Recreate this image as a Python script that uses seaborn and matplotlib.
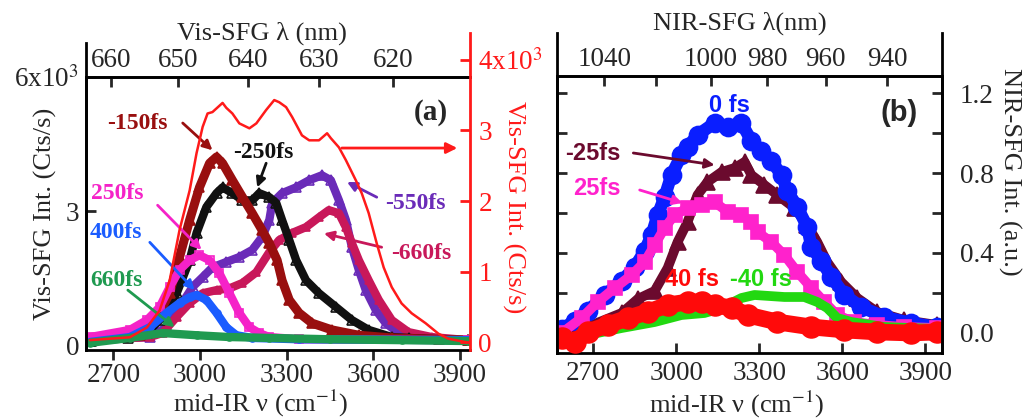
import numpy as np
import pandas as pd
import matplotlib
matplotlib.use('Agg')
import matplotlib.pyplot as plt
import seaborn as sns

# ---------------- panel (a): Vis-SFG, x = mid-IR wavenumber (cm-1), y = 10^3 Cts/s
nu_vis_total = [2619, 2757, 2816, 2860, 2895, 2929, 2964, 2988, 3009, 3026, 3043, 3078, 3091, 3112,
                3136, 3171, 3195, 3229, 3257, 3274, 3298, 3319, 3353, 3378, 3412, 3440, 3453, 3481,
                3505, 3540, 3560, 3584, 3612, 3636, 3664, 3698, 3733, 3781, 3826, 3860, 3922]
int_vis_total = [0.03, 0.07, 0.21, 0.45, 0.88, 1.59, 2.15, 2.68, 3.05, 3.24, 3.26, 3.39, 3.32, 3.24,
                 3.10, 3.03, 3.10, 3.29, 3.43, 3.40, 3.33, 3.19, 2.93, 2.86, 2.86, 2.96, 2.89, 2.76,
                 2.58, 2.29, 2.11, 1.83, 1.40, 1.06, 0.78, 0.55, 0.41, 0.27, 0.12, 0.05, 0.0]

nu_m550 = [2619, 2826, 2884, 2929, 2974, 3009, 3043, 3091, 3136, 3181, 3215, 3240, 3250, 3284, 3333,
           3378, 3422, 3453, 3481, 3505, 3526, 3550, 3574, 3609, 3643, 3688, 3746, 3826, 3929]
int_m550 = [0.11, 0.18, 0.40, 0.85, 1.30, 1.52, 1.74, 1.86, 1.97, 2.13, 2.42, 2.80, 3.18, 3.40, 3.53,
            3.69, 3.80, 3.69, 3.24, 2.80, 2.19, 1.68, 1.23, 0.78, 0.49, 0.27, 0.16, 0.13, 0.11]

nu_m660 = [2619, 2826, 2870, 2919, 2964, 3009, 3057, 3102, 3147, 3195, 3240, 3274, 3319, 3367, 3412,
           3446, 3481, 3505, 3526, 3550, 3584, 3619, 3664, 3722, 3802, 3929]
int_m660 = [0.11, 0.18, 0.27, 0.63, 0.94, 1.16, 1.23, 1.27, 1.39, 1.63, 2.08, 2.35, 2.51, 2.64, 2.86,
            3.02, 2.95, 2.64, 2.28, 1.90, 1.45, 1.01, 0.56, 0.29, 0.18, 0.11]

nu_m250 = [2620, 2750, 2816, 2860, 2919, 2964, 2988, 3022, 3057, 3078, 3112, 3147, 3181, 3205, 3240,
           3264, 3284, 3309, 3333, 3367, 3412, 3471, 3526, 3584, 3664, 3722, 3826, 3929]
int_m250 = [0.10, 0.15, 0.27, 0.56, 1.16, 1.90, 2.51, 3.09, 3.40, 3.53, 3.40, 3.24, 3.24, 3.40, 3.31,
            3.18, 2.80, 2.35, 1.90, 1.45, 1.16, 0.85, 0.56, 0.34, 0.18, 0.16, 0.13, 0.11]

nu_m150 = [2619, 2791, 2860, 2895, 2929, 2964, 2998, 3033, 3057, 3078, 3112, 3147, 3181, 3215, 3240,
           3267, 3284, 3309, 3343, 3388, 3457, 3550, 3664, 3826, 3929]
int_m150 = [0.11, 0.22, 0.72, 1.16, 1.97, 2.80, 3.53, 4.07, 4.21, 4.07, 3.69, 3.31, 2.95, 2.57, 2.28,
            1.90, 1.45, 1.01, 0.72, 0.49, 0.34, 0.22, 0.16, 0.13, 0.11]

nu_p250 = [2619, 2757, 2816, 2860, 2895, 2929, 2964, 2998, 3033, 3067, 3102, 3136, 3171, 3205, 3240, 3343, 3929]
int_p250 = [0.18, 0.34, 0.56, 0.85, 1.30, 1.68, 1.90, 2.01, 1.90, 1.61, 1.16, 0.72, 0.40, 0.27, 0.18, 0.13, 0.11]

nu_p400 = [2619, 2757, 2826, 2884, 2929, 2964, 2988, 3022, 3057, 3091, 3126, 3181, 3343, 3929]
int_p400 = [0.07, 0.18, 0.40, 0.72, 0.94, 1.07, 1.12, 1.01, 0.72, 0.40, 0.22, 0.16, 0.13, 0.11]

nu_p660 = [2619, 2757, 2870, 2988, 3102, 3240, 3450, 3700, 3929]
int_p660 = [0.05, 0.16, 0.27, 0.22, 0.18, 0.16, 0.13, 0.11, 0.09]

# ---------------- panel (b): NIR-SFG, y = a.u.
nu_0fs = [2586, 2633, 2680, 2742, 2803, 2850, 2886, 2911, 2933, 2958, 2983, 3019, 3041, 3077, 3139,
          3186, 3236, 3272, 3308, 3344, 3381, 3402, 3438, 3474, 3489, 3525, 3561, 3608, 3669, 3752, 3849, 3943]
int_0fs = [0.02, 0.06, 0.11, 0.19, 0.26, 0.33, 0.41, 0.49, 0.59, 0.68, 0.79, 0.89, 0.93, 0.99, 1.05,
           1.03, 1.05, 0.96, 0.91, 0.86, 0.79, 0.71, 0.63, 0.53, 0.43, 0.36, 0.28, 0.19, 0.13, 0.08, 0.05, 0.03]

nu_m25 = [2600, 2651, 2803, 2861, 2922, 2969, 3005, 3041, 3077, 3113, 3164, 3211, 3247, 3272, 3319,
          3366, 3428, 3474, 3510, 3546, 3597, 3655, 3727, 3824, 3943]
int_m25 = [0.01, 0.015, 0.10, 0.17, 0.21, 0.325, 0.455, 0.555, 0.69, 0.755, 0.805, 0.825, 0.855, 0.79, 0.74,
           0.69, 0.625, 0.54, 0.455, 0.355, 0.255, 0.175, 0.105, 0.065, 0.04]

nu_p25 = [2586, 2658, 2716, 2778, 2839, 2886, 2922, 2958, 2994, 3041, 3092, 3139, 3186, 3236, 3272,
          3294, 3344, 3391, 3438, 3489, 3536, 3582, 3643, 3727, 3824, 3943]
int_p25 = [0.0, 0.075, 0.155, 0.225, 0.29, 0.355, 0.44, 0.525, 0.59, 0.625, 0.64, 0.655, 0.605, 0.59, 0.555,
           0.505, 0.455, 0.39, 0.305, 0.225, 0.155, 0.09, 0.055, 0.04, 0.03, 0.025]

nu_m40 = [2586, 2680, 2803, 2922, 3019, 3102, 3164, 3236, 3283, 3391, 3463, 3510, 3546, 3582, 3633, 3750, 3943]
int_m40 = [-0.045, -0.01, 0.025, 0.055, 0.09, 0.10, 0.125, 0.175, 0.19, 0.18, 0.18, 0.155, 0.125, 0.075,
           0.055, 0.03, 0.02]

nu_p40 = [2586, 2633, 2680, 2752, 2825, 2897, 2969, 3041, 3092, 3139, 3200, 3258, 3366, 3489, 3608,
          3727, 3849, 3943]
int_p40 = [-0.025, -0.045, 0.005, 0.04, 0.075, 0.105, 0.14, 0.155, 0.155, 0.14, 0.125, 0.09, 0.055, 0.03,
           0.015, 0.005, 0.0, 0.005]

vis_ticks_nm = [660, 650, 640, 630, 620]
nir_ticks_nm = [1040, 1020, 1000, 980, 960, 940]
nir_labels_nm = ['1040', '', '1000', '980', '960', '940']

sns.set_theme(style='ticks')
plt.rcParams['font.family'] = ['Liberation Serif', 'DejaVu Serif']
plt.rcParams['mathtext.fontset'] = 'stix'

W, H = 1025, 419
fig = plt.figure(figsize=(W / 100, H / 100), dpi=100)


def rect(left, right, top, bottom):
    return [left / W, 1 - bottom / H, (right - left) / W, (bottom - top) / H]


def band(ax, x, y, color, lw, marker, ms, mfc=None, z=2):
    df = pd.DataFrame({'nu': x, 'val': y})
    sns.lineplot(data=df, x='nu', y='val', ax=ax, color=color, lw=lw, marker=marker, markersize=ms,
                 markerfacecolor=mfc if mfc else color, markeredgecolor=color, markeredgewidth=1.2,
                 estimator=None, sort=False, zorder=z, legend=False)


TK = dict(length=7, width=2, labelsize=19.5)
RED = '#ff1a1a'
LBL = 19

# ================= panel (a)
ax_a = fig.add_axes(rect(86, 470, 77, 350))
xa = (2605, 3935)
ax_a.set_xlim(*xa)
ax_a.set_ylim(-0.11, 6.0)
band(ax_a, nu_m550, int_m550, '#6a2bb8', 6, '^', 7, 'none')
band(ax_a, nu_m660, int_m660, '#c8185a', 6, '^', 6)
band(ax_a, nu_m250, int_m250, '#111111', 6, '^', 7, 'none')
band(ax_a, nu_m150, int_m150, '#990f0f', 6.5, '^', 7)
band(ax_a, nu_p250, int_p250, '#f522c8', 6, 's', 6, 'none')
band(ax_a, nu_p400, int_p400, '#1a5cff', 6, 'o', 5)
band(ax_a, nu_p660, int_p660, '#1f9a50', 6, 'o', 5)
ax_a.set_xlabel('')
ax_a.set_ylabel('')
ax_a.set_xticks([2700, 3000, 3300, 3600, 3900])
ax_a.set_yticks([0, 3, 6])
ax_a.set_yticklabels(['0', '3', r'6x10$^3$'])
ax_a.tick_params(axis='x', direction='out', pad=2, **TK)
ax_a.tick_params(axis='y', direction='in', pad=5, **TK)
for s in ax_a.spines.values():
    s.set_linewidth(2)
    s.set_color('black')
ax_a.spines['right'].set_visible(False)

sec_a = ax_a.secondary_xaxis('top', functions=(lambda n: 1e7 / (np.asarray(n) + 12460.0),
                                               lambda l: 1e7 / np.clip(np.asarray(l, dtype=float), 1e-6, None) - 12460.0))
sec_a.set_xticks(vis_ticks_nm)
sec_a.set_xticklabels([str(t) for t in vis_ticks_nm])
sec_a.tick_params(direction='in', pad=3, **TK)
sec_a.spines['top'].set_linewidth(2)

# red total-intensity axis (right)
ax_r = fig.add_axes(rect(86, 470, 33, 350))
ax_r.set_xlim(*xa)
ax_r.set_ylim(-0.11, 4.38)
sns.lineplot(x=nu_vis_total, y=int_vis_total, ax=ax_r, color=RED, lw=1.8, estimator=None, sort=False)
ax_r.patch.set_alpha(0)
for k in ['left', 'top', 'bottom']:
    ax_r.spines[k].set_visible(False)
ax_r.spines['right'].set_color(RED)
ax_r.spines['right'].set_linewidth(2)
ax_r.set_xticks([])
ax_r.yaxis.tick_right()
ax_r.set_yticks([0, 1, 2, 3, 4])
ax_r.set_yticklabels(['0', '1', '2', '3', r'4x10$^3$'])
ax_r.tick_params(axis='y', direction='in', colors=RED, pad=6, **TK)
ax_r.set_xlabel('')
ax_r.set_ylabel('')

# left spine stub above the frame
ax_la = fig.add_axes(rect(86, 470, 43, 350))
ax_la.patch.set_alpha(0)
ax_la.set_xticks([])
ax_la.set_yticks([])
for k in ['right', 'top', 'bottom']:
    ax_la.spines[k].set_visible(False)
ax_la.spines['left'].set_linewidth(2)
ax_la.spines['left'].set_color('black')

AF = dict(fontsize=17, fontweight='bold', ha='center', va='center')


def note(ax, txt, pos, color, tail=None, head=None, font=None):
    kw = dict(AF)
    if font:
        kw['family'] = font
    ax.text(pos[0], pos[1], txt, color=color, zorder=10, **kw)
    if tail is not None:
        ax.annotate('', xy=head, xytext=tail, zorder=10,
                    arrowprops=dict(arrowstyle='-|>', color=color, lw=2, mutation_scale=14,
                                    shrinkA=0, shrinkB=0))


note(ax_a, '-150fs', (2784, 4.97), '#990f0f', (2940, 4.97), (3043, 4.36))
note(ax_a, '-250fs', (3219, 4.32), '#111111', (3229, 4.07), (3198, 3.53))
note(ax_a, '250fs', (2712, 3.40), '#f522c8', (2853, 3.13), (3005, 2.13))
note(ax_a, '400fs', (2709, 2.53), '#1a5cff', (2826, 2.30), (2981, 1.23))
note(ax_a, '660fs', (2709, 1.45), '#1f9a50', (2750, 1.23), (2912, 0.40))
note(ax_a, '-550fs', (3745, 3.18), '#6a2bb8', (3612, 3.31), (3509, 3.65))
note(ax_a, '-660fs', (3765, 2.06), '#c8185a', (3629, 2.19), (3429, 2.50))
ax_a.annotate('', xy=(3891, 4.41), xytext=(3491, 4.41),
              arrowprops=dict(arrowstyle='-|>', color=RED, lw=2, mutation_scale=16, shrinkA=0, shrinkB=0))
ax_a.text(3798, 5.21, '(a)', fontsize=21, fontweight='bold', ha='center', va='center')

fig.text(262 / W, 1 - 33 / H, 'Vis-SFG λ (nm)', fontsize=LBL, ha='center', va='center')
fig.text(261 / W, 1 - 403 / H, r'mid-IR ν (cm$^{-1}$)', fontsize=LBL, ha='center', va='center')
fig.text(45 / W, 1 - 214 / H, 'Vis-SFG Int. (Cts/s)', fontsize=LBL, ha='center', va='center', rotation=90)
fig.text(514 / W, 1 - 207 / H, 'Vis-SFG Int. (Cts/s)', fontsize=LBL, ha='center', va='center',
         rotation=270, color=RED)

# ================= panel (b)
ax_b = fig.add_axes(rect(557, 942, 76, 353))
xb = (2569, 3961)
ax_b.set_xlim(*xb)
ax_b.set_ylim(-0.1, 1.285)
band(ax_b, nu_m25, int_m25, '#6b0a2e', 7, '^', 12, z=2)
band(ax_b, nu_0fs, int_0fs, '#0a1eff', 9, 'o', 13, z=3)
band(ax_b, nu_p25, int_p25, '#ff22cc', 7, 's', 10, z=4)
band(ax_b, nu_m40, int_m40, '#22d811', 7, None, 0, z=5)
band(ax_b, nu_p40, int_p40, '#ff0a0a', 12, 'o', 15, z=6)
ax_b.set_xlabel('')
ax_b.set_ylabel('')
ax_b.set_xticks([2700, 3000, 3300, 3600, 3900])
ax_b.set_yticks([0, 0.2, 0.4, 0.6, 0.8, 1.0, 1.2])
ax_b.set_yticklabels(['0.0', '', '0.4', '', '0.8', '', '1.2'])
ax_b.tick_params(axis='x', direction='in', pad=6, **TK)
ax_b.tick_params(axis='y', direction='in', pad=13, left=True, right=True, labelleft=False,
                 labelright=True, **TK)
for s in ax_b.spines.values():
    s.set_linewidth(2)
    s.set_color('black')

sec_b = ax_b.secondary_xaxis('top', functions=(lambda n: 1e7 / (np.asarray(n) + 6876.0),
                                               lambda l: 1e7 / np.clip(np.asarray(l, dtype=float), 1e-6, None) - 6876.0))
sec_b.set_xticks(nir_ticks_nm)
sec_b.set_xticklabels(nir_labels_nm)
sec_b.tick_params(direction='in', pad=3, **TK)
sec_b.spines['top'].set_linewidth(2)

ax_be = fig.add_axes(rect(557, 942, 33, 353))
ax_be.patch.set_alpha(0)
ax_be.set_xticks([])
ax_be.set_yticks([])
for k in ['top', 'bottom']:
    ax_be.spines[k].set_visible(False)
for k in ['left', 'right']:
    ax_be.spines[k].set_linewidth(2)
    ax_be.spines[k].set_color('black')

SANS = ['Liberation Sans', 'DejaVu Sans']
note(ax_b, '0 fs', (3193, 1.14), '#0a1eff', font=SANS)
note(ax_b, '-25fs', (2698, 0.90), '#6b0a2e', (2845, 0.90), (3139, 0.84), font=SANS)
note(ax_b, '25fs', (2712, 0.725), '#ff22cc', (2868, 0.715), (3023, 0.65), font=SANS)
note(ax_b, '40 fs', (3056, 0.265), '#ff0a0a', font=SANS)
note(ax_b, '-40 fs', (3308, 0.265), '#22d811', font=SANS)
ax_b.text(3806, 1.10, '(b)', fontsize=21, fontweight='bold', ha='center', va='center', family=SANS)

fig.text(740 / W, 1 - 23 / H, 'NIR-SFG λ(nm)', fontsize=LBL, ha='center', va='center')
fig.text(737 / W, 1 - 404 / H, r'mid-IR ν (cm$^{-1}$)', fontsize=LBL, ha='center', va='center')
fig.text(1010 / W, 1 - 172 / H, 'NIR-SFG Int. (a.u.)', fontsize=LBL, ha='center', va='center', rotation=270)

fig.savefig('out.png', dpi=100)
